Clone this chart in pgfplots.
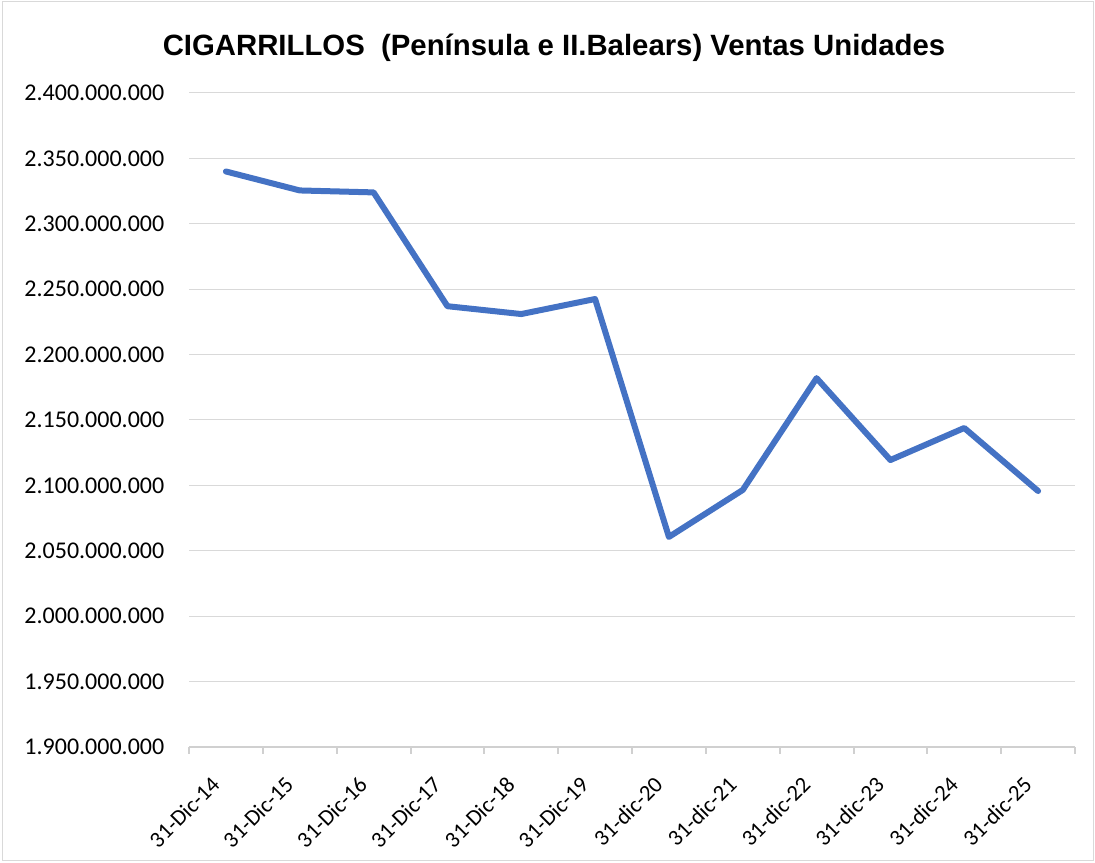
\documentclass[border=0pt]{standalone}
\usepackage{pgfplots}
\pgfplotsset{compat=1.18}
\usepackage{fontspec}
\setmainfont{Carlito}
\newfontfamily\titlefont{Liberation Sans}
\definecolor{lineblue}{HTML}{4472C4}
\definecolor{gridgray}{HTML}{D9D9D9}
\definecolor{axisgray}{HTML}{D0D0D0}
\begin{document}
\begin{tikzpicture}[x=0.75pt,y=0.75pt]
\useasboundingbox (0,0) rectangle (1095,863);
\draw[color=gridgray, line width=0.75pt] (2,2) rectangle (1093,861);
\node[anchor=base, font=\titlefont\bfseries\fontsize{22}{25}\selectfont] at (554,807) {CIGARRILLOS\ \ (Península e II.Balears) Ventas Unidades};
\begin{axis}[
  at={(141.75pt,87pt)}, anchor=south west,
  scale only axis, width=664.5pt, height=490.5pt,
  xmin=-0.5, xmax=11.5,
  ymin=1900000000, ymax=2400000000,
  scaled y ticks=false,
  axis lines*=left,
  y axis line style={draw=none},
  x axis line style={color=axisgray, line width=1.5pt},
  ymajorgrids, grid style={color=gridgray, line width=0.75pt},
  xtick={0,...,11},
  xticklabels={31-Dic-14,31-Dic-15,31-Dic-16,31-Dic-17,31-Dic-18,31-Dic-19,31-dic-20,31-dic-21,31-dic-22,31-dic-23,31-dic-24,31-dic-25},
  minor xtick={-0.5,0.5,...,11.5},
  major tick length=0pt,
  minor tick length=5.25pt,
  tick align=outside,
  minor tick style={color=axisgray, line width=1.5pt},
  ytick={1900000000,1950000000,2000000000,2050000000,2100000000,2150000000,2200000000,2250000000,2300000000,2350000000,2400000000},
  yticklabels={1.900.000.000,1.950.000.000,2.000.000.000,2.050.000.000,2.100.000.000,2.150.000.000,2.200.000.000,2.250.000.000,2.300.000.000,2.350.000.000,2.400.000.000},
  yticklabel style={font=\fontsize{18}{21}\selectfont, anchor=east, xshift=-15pt},
  xticklabel style={font=\fontsize{17}{20}\selectfont, xshift=-12pt, yshift=-21pt, rotate=45, anchor=north east, inner sep=0pt},
  clip=false,
]
\addplot[color=lineblue, line width=4.5pt, line join=round, line cap=round] coordinates {
(0,2340000000) (1,2325500000) (2,2324000000) (3,2237000000) (4,2231000000) (5,2242500000)
(6,2060600000) (7,2096500000) (8,2182000000) (9,2119400000) (10,2143900000) (11,2095700000)
};
\end{axis}
\end{tikzpicture}
\end{document}
